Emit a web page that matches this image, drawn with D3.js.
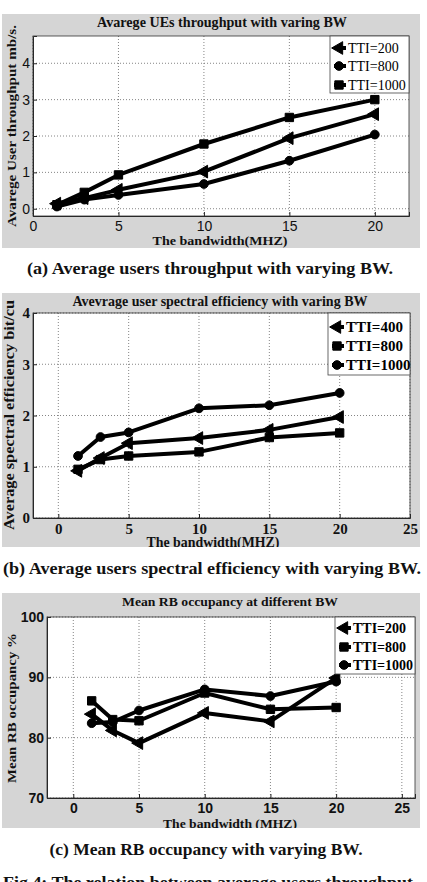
<!DOCTYPE html>
<html>
<head>
<meta charset="utf-8">
<script src="https://cdn.jsdelivr.net/npm/d3@7"></script>
<style>
  body { margin: 0; background: #fff; }
  svg { display: block; }
</style>
</head>
<body>
<div id="chart"></div>
<script>
// Bandwidth points (MHz), shared by every panel
const bw = [1.4, 3, 5, 10, 15, 20];

// (a) throughput, mb/s
const thrTti200 = [0.14, 0.29, 0.52, 1.02, 1.94, 2.6];
const thrTti800 = [0.06, 0.25, 0.38, 0.68, 1.32, 2.04];
const thrTti1000 = [0.11, 0.45, 0.93, 1.78, 2.51, 3.0];

// (b) spectral efficiency, bit/cu
const seTti400 = [0.92, 1.17, 1.46, 1.56, 1.72, 1.97];
const seTti800 = [0.95, 1.14, 1.21, 1.29, 1.57, 1.66];
const seTti1000 = [1.21, 1.58, 1.67, 2.14, 2.2, 2.44];

// (c) RB occupancy, %
const rbTti200 = [83.9, 81.2, 79.1, 84.1, 82.7, 89.9];
const rbTti800 = [86.1, 83.0, 82.8, 87.4, 84.7, 85.0];
const rbTti1000 = [82.4, 82.6, 84.5, 88.0, 86.9, 89.3];

// tick labels
const ticksXa = [0, 5, 10, 15, 20];
const ticksYa = [0, 1, 2, 3, 4];
const ticksXb = [0, 5, 10, 15, 20, 25];
const ticksYb = [0, 1, 2, 3, 4];
const ticksXc = [0, 5, 10, 15, 20, 25];
const ticksYc = [70, 80, 90, 100];

const width = 427, height = 882;
const serif = "'Liberation Serif', 'Times New Roman', serif";
const sans = "'Liberation Sans', Arial, sans-serif";

const svg = d3.select("#chart")
    .append("svg")
    .attr("width", width)
    .attr("height", height);

const symbols = {
    left: d3.symbol().type(d3.symbolTriangle).size(70),
    square: d3.symbol().type(d3.symbolSquare).size(70),
    circle: d3.symbol().type(d3.symbolCircle).size(60)
};

const drawMarker = (g, kind, x, y) => {
    g.append("path")
        .attr("d", symbols[kind]())
        .attr("transform", `translate(${x},${y})` + (kind === "left" ? " rotate(-90)" : ""))
        .attr("fill", "#000")
        .attr("stroke", "#000")
        .attr("stroke-width", 1);
};

// bold serif text stretched to the width
const label = (parent, txt, size, len) => {
    const t = parent.append("text")
        .attr("text-anchor", "middle")
        .style("font-family", serif)
        .style("font-weight", "bold")
        .style("font-size", size + "px")
        .attr("fill", "#111")
        .text(txt);
    if (len) t.attr("textLength", len).attr("lengthAdjust", "spacingAndGlyphs");
    return t;
};

const drawPanel = (cfg) => {
    const g = svg.append("g");

    const clipId = "clip-" + cfg.id;
    svg.append("clipPath").attr("id", clipId)
        .append("rect")
        .attr("x", cfg.box[0]).attr("y", cfg.box[1])
        .attr("width", cfg.box[2] - cfg.box[0])
        .attr("height", cfg.box[3] - cfg.box[1]);
    g.attr("clip-path", `url(#${clipId})`);

    // grey figure background
    g.append("rect")
        .attr("x", cfg.box[0]).attr("y", cfg.box[1])
        .attr("width", cfg.box[2] - cfg.box[0])
        .attr("height", cfg.box[3] - cfg.box[1])
        .attr("fill", "#d5d5d5");

    const [left, top, right, bottom] = cfg.plot;
    const x = d3.scaleLinear().domain(cfg.xDomain).range([left, right]);
    const y = d3.scaleLinear().domain(cfg.yDomain).range([bottom, top]);

    // plot area
    g.append("rect")
        .attr("x", left).attr("y", top)
        .attr("width", right - left).attr("height", bottom - top)
        .attr("fill", "#fff");

    // grid
    g.append("g")
        .selectAll("line")
        .data(cfg.ticksX)
        .join("line")
        .attr("x1", d => x(d)).attr("x2", d => x(d))
        .attr("y1", top).attr("y2", bottom)
        .attr("stroke", "#666")
        .attr("stroke-width", 0.8)
        .attr("stroke-dasharray", "1,2");
    g.append("g")
        .selectAll("line")
        .data(cfg.ticksY)
        .join("line")
        .attr("x1", left).attr("x2", right)
        .attr("y1", d => y(d)).attr("y2", d => y(d))
        .attr("stroke", "#666")
        .attr("stroke-width", 0.8)
        .attr("stroke-dasharray", "1,2");

    // axes
    const xAxis = g.append("g")
        .attr("transform", `translate(0,${bottom})`)
        .call(d3.axisBottom(x).tickValues(cfg.ticksX).tickFormat(d3.format("d"))
            .tickSize(-4).tickPadding(cfg.xPad));
    const yAxis = g.append("g")
        .attr("transform", `translate(${left},0)`)
        .call(d3.axisLeft(y).tickValues(cfg.ticksY).tickFormat(d3.format("d"))
            .tickSize(-4).tickPadding(cfg.yPad));
    [xAxis, yAxis].forEach(ax => {
        ax.select(".domain").attr("stroke", "#222");
        ax.selectAll(".tick line").attr("stroke", "#222");
        ax.selectAll("text")
            .attr("fill", "#111")
            .style("font-family", cfg.tickFont)
            .style("font-weight", cfg.tickWeight)
            .style("font-size", cfg.tickSize + "px");
    });
    // box right / top
    g.append("rect")
        .attr("x", left).attr("y", top)
        .attr("width", right - left).attr("height", bottom - top)
        .attr("fill", "none")
        .attr("stroke", "#333")
        .attr("stroke-width", 0.8);

    // series
    const line = d3.line().x(d => x(d[0])).y(d => y(d[1]));
    cfg.series.forEach(s => {
        const pts = bw.map((b, i) => [b, s.values[i]]);
        g.append("path")
            .datum(pts)
            .attr("d", line)
            .attr("fill", "none")
            .attr("stroke", "#000")
            .attr("stroke-width", 4)
            .attr("stroke-linejoin", "round");
        pts.forEach(p => drawMarker(g, s.marker, x(p[0]), y(p[1])));
    });

    // legend
    const [lx0, ly0, lx1, ly1] = cfg.legendBox;
    g.append("rect")
        .attr("x", lx0).attr("y", ly0)
        .attr("width", lx1 - lx0).attr("height", ly1 - ly0)
        .attr("fill", "#fff")
        .attr("stroke", "#444")
        .attr("stroke-width", 0.8);
    cfg.series.forEach((s, i) => {
        const cy = cfg.legendY[i];
        g.append("line")
            .attr("x1", lx0 + 4).attr("x2", lx0 + 16)
            .attr("y1", cy).attr("y2", cy)
            .attr("stroke", "#000").attr("stroke-width", 4);
        drawMarker(g, s.marker, lx0 + 9, cy);
        g.append("text")
            .attr("x", cfg.legendTextX)
            .attr("y", cy)
            .attr("dy", "0.35em")
            .style("font-family", serif)
            .style("font-weight", cfg.legendWeight)
            .style("font-size", cfg.legendSize + "px")
            .attr("fill", "#000")
            .text(s.name);
    });

    // title
    label(g, cfg.title, cfg.titleSize, cfg.titleLen)
        .attr("x", cfg.titlePos[0]).attr("y", cfg.titlePos[1]);

    // axis labels
    label(g, cfg.xLabel, cfg.labelSize, cfg.xLabelLen)
        .attr("x", cfg.xLabelPos[0]).attr("y", cfg.xLabelPos[1]);
    label(g, cfg.yLabel, cfg.labelSize, cfg.yLabelLen)
        .attr("transform", `translate(${cfg.yLabelPos[0]},${cfg.yLabelPos[1]}) rotate(-90)`);

    // caption below the figure
    label(svg, cfg.caption, 17, cfg.captionLen)
        .attr("x", cfg.captionPos[0]).attr("y", cfg.captionPos[1]);
};

drawPanel({
    id: "a",
    box: [2, 14, 420, 248],
    plot: [33, 36, 409, 216],
    xDomain: [0, 22],
    yDomain: [-0.2, 4.75],
    ticksX: ticksXa, ticksY: ticksYa,
    tickFont: sans, tickWeight: "normal", tickSize: 14, xPad: 5, yPad: 3,
    series: [
        { name: "TTI=200", marker: "left", values: thrTti200 },
        { name: "TTI=800", marker: "circle", values: thrTti800 },
        { name: "TTI=1000", marker: "square", values: thrTti1000 }
    ],
    legendBox: [330, 36, 409, 93],
    legendY: [48, 66, 85],
    legendTextX: 348, legendSize: 14, legendWeight: "normal",
    title: "Avarege UEs throughput with varing BW",
    titlePos: [222, 27], titleSize: 14, titleLen: 250,
    xLabel: "The bandwidth(MHZ)", xLabelPos: [220, 245], xLabelLen: 135,
    yLabel: "Avarege User throughput mb/s.", yLabelPos: [16, 126], yLabelLen: 202,
    labelSize: 13,
    caption: "(a) Average users throughput with varying BW.",
    captionPos: [210, 274], captionLen: 366
});

drawPanel({
    id: "b",
    box: [2, 293, 420, 547],
    plot: [33, 313, 410, 518],
    xDomain: [-1.8, 25],
    yDomain: [0, 4],
    ticksX: ticksXb, ticksY: ticksYb,
    tickFont: serif, tickWeight: "bold", tickSize: 15, xPad: 5, yPad: 3,
    series: [
        { name: "TTI=400", marker: "left", values: seTti400 },
        { name: "TTI=800", marker: "square", values: seTti800 },
        { name: "TTI=1000", marker: "circle", values: seTti1000 }
    ],
    legendBox: [328, 313, 410, 375],
    legendY: [327, 346, 365],
    legendTextX: 346, legendSize: 15, legendWeight: "bold",
    title: "Avevrage user spectral efficiency with varing BW",
    titlePos: [220, 306], titleSize: 14, titleLen: 295,
    xLabel: "The bandwidth(MHZ)", xLabelPos: [213, 547], xLabelLen: 133,
    yLabel: "Average spectral efficiency bit/cu", yLabelPos: [14, 415], yLabelLen: 230,
    labelSize: 14,
    caption: "(b) Average users spectral efficiency with varying BW.",
    captionPos: [212, 574], captionLen: 418
});

drawPanel({
    id: "c",
    box: [2, 593, 420, 828],
    plot: [47, 617, 415, 798],
    xDomain: [-2, 26],
    yDomain: [70, 100],
    ticksX: ticksXc, ticksY: ticksYc,
    tickFont: sans, tickWeight: "bold", tickSize: 14, xPad: 5, yPad: 3,
    series: [
        { name: "TTI=200", marker: "left", values: rbTti200 },
        { name: "TTI=800", marker: "square", values: rbTti800 },
        { name: "TTI=1000", marker: "circle", values: rbTti1000 }
    ],
    legendBox: [335, 617, 415, 674],
    legendY: [628, 647, 665],
    legendTextX: 353, legendSize: 14, legendWeight: "bold",
    title: "Mean RB occupancy at different BW",
    titlePos: [230, 606], titleSize: 13, titleLen: 216,
    xLabel: "The bandwidth (MHZ)", xLabelPos: [230, 828], xLabelLen: 134,
    yLabel: "Mean RB occupancy %", yLabelPos: [16, 708], yLabelLen: 150,
    labelSize: 13,
    caption: "(c) Mean RB occupancy with varying BW.",
    captionPos: [206, 855], captionLen: 313
});

// figure caption, cut by the bottom of the page as in the source
label(svg, "Fig.4: The relation between average users throughput", 17, 410)
    .attr("x", 208).attr("y", 888);
</script>
</body>
</html>
